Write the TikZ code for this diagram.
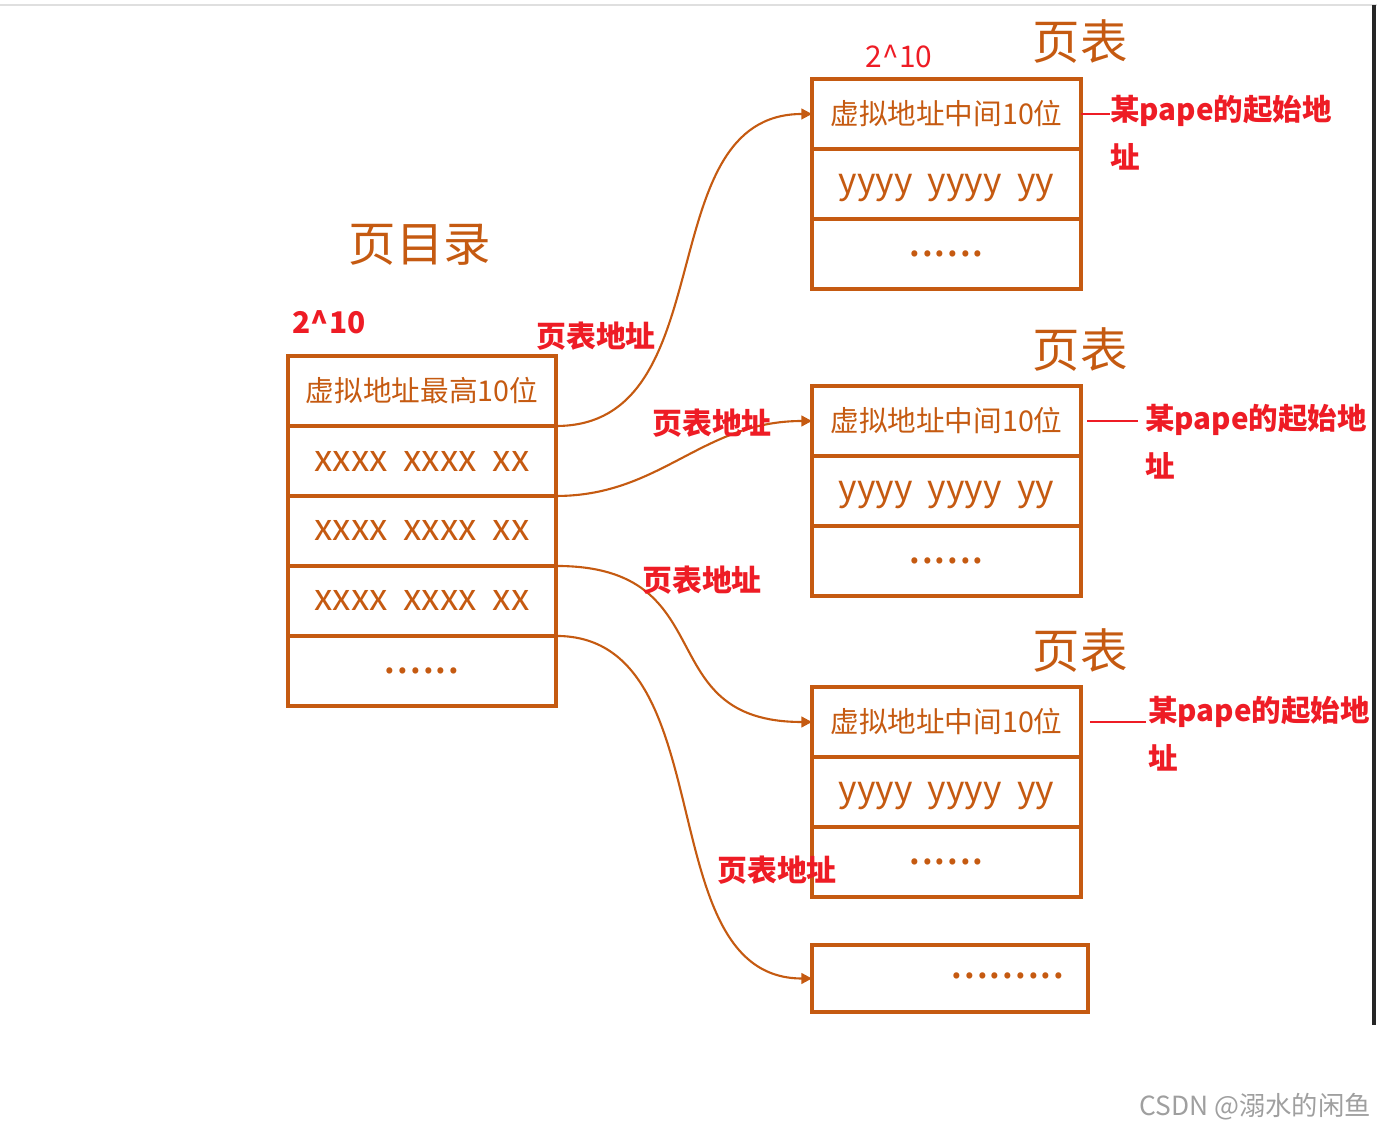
\documentclass[tikz,border=0pt]{standalone}
\usepackage{fontspec}
\setmainfont{Noto Sans CJK SC}
\newfontfamily\widefont[WordSpace=1.9]{Noto Sans CJK SC}
\usetikzlibrary{positioning,arrows.meta}

\definecolor{boxorange}{HTML}{C55A11}
\definecolor{notered}{HTML}{EE1C25}

\tikzset{
    cell/.style={draw=boxorange, line width=2.3pt, minimum width=5.37cm,
        minimum height=1.4cm, inner sep=0pt, outer sep=0pt, text=boxorange},
    pagecell/.style={cell, minimum width=5.38cm},
    smalltext/.style={font=\fontsize{16.3}{20}\selectfont},
    bigtext/.style={font=\widefont\fontsize{21}{24}\selectfont},
    ytext/.style={font=\widefont\fontsize{20.2}{24}\selectfont, text depth=0pt},
    dotstext/.style={font=\fontsize{26}{28}\selectfont},
    link/.style={->, draw=boxorange, line width=1.2pt},
    redlabel/.style={text=notered, font=\fontsize{17}{20}\selectfont\bfseries, inner sep=0pt},
    note/.style={text=notered, font=\fontsize{16.8}{27.5}\selectfont\bfseries,
        align=left, inner sep=0pt, anchor=north west},
    noteline/.style={draw=notered, line width=1.4pt},
    title/.style={text=boxorange, font=\fontsize{27}{30}\selectfont, inner sep=0pt},
}

\begin{document}
\begin{tikzpicture}[x=0.02cm, y=-0.02cm, >={Triangle[length=6pt, width=6pt]}]
    \useasboundingbox (0,0) rectangle (1377,1131);

    % Screen edges
    \draw[gray!25, line width=0.6pt] (0,5) -- (1377,5);
    \draw[black!85, line width=1.8pt] (1374,5) -- (1374,1025);

    % Page directory
    \node[title] (dirtitle) at (420,245) {页目录};
    \node[redlabel] (dirsize) at (329,322) {2\string^10};
    \node[cell, smalltext] (d1) at (422,391) {虚拟地址最高10位};
    \node[cell, bigtext, below=0pt of d1] (d2) {xxxx xxxx xx};
    \node[cell, bigtext, below=0pt of d2] (d3) {xxxx xxxx xx};
    \node[cell, bigtext, below=0pt of d3] (d4) {xxxx xxxx xx};
    \node[cell, dotstext, below=0pt of d4] (d5) {......};

    % Page table # 1
    \node[title] (t1) at (1080,42) {页表};
    \node[text=notered, font=\fontsize{17}{20}\selectfont, inner sep=0pt] (p1size) at (899,57) {2\string^10};
    \node[pagecell, smalltext] (p1a) at (946.5,114) {虚拟地址中间10位};
    \node[pagecell, ytext, below=0pt of p1a] (p1b) {yyyy yyyy yy};
    \node[pagecell, dotstext, below=0pt of p1b] (p1c) {......};

    % Page table # 2
    \node[title] (t2) at (1080,350) {页表};
    \node[pagecell, smalltext] (p2a) at (946.5,421) {虚拟地址中间10位};
    \node[pagecell, ytext, below=0pt of p2a] (p2b) {yyyy yyyy yy};
    \node[pagecell, dotstext, below=0pt of p2b] (p2c) {......};

    % Page table # 3
    \node[title] (t3) at (1080,651) {页表};
    \node[pagecell, smalltext] (p3a) at (946.5,722) {虚拟地址中间10位};
    \node[pagecell, ytext, below=0pt of p3a] (p3b) {yyyy yyyy yy};
    \node[pagecell, dotstext, below=0pt of p3b] (p3c) {......};

    % Remaining page tables
    \node[cell, minimum width=5.52cm, minimum height=1.34cm] (pend) at (950,978.5) {};
    \node[text=boxorange, dotstext, inner sep=0pt] (enddots) at (1008,976) {.........};

    % Directory entries to page tables
    \draw[link] (d1.south east) .. controls +(170,0) and +(-165,0) .. (p1a.west);
    \draw[link] (d2.south east) .. controls +(105,0) and +(-110,0) .. (p2a.west);
    \draw[link] (d3.south east) .. controls +(170,0) and +(-165,0) .. (p3a.west);
    \draw[link] (d4.south east) .. controls +(170,0) and +(-165,0) .. (pend.west);

    % Labels on the links
    \node[redlabel] (addr1) at (596,336) {页表地址};
    \node[redlabel] (addr2) at (712,423) {页表地址};
    \node[redlabel] (addr3) at (702,580) {页表地址};
    \node[redlabel] (addr4) at (777,870) {页表地址};

    % Start of a page
    \node[note] (n1) at (1110,95) {某pape的起始地\\址};
    \node[note] (n2) at (1145,404) {某pape的起始地\\址};
    \node[note] (n3) at (1148,696) {某pape的起始地\\址};
    \draw[noteline] (p1a.east) -- (p1a.east -| n1.west);
    \draw[noteline, shorten <=3.5pt, shorten >=4pt] (p2a.east) -- (p2a.east -| n2.west);
    \draw[noteline, shorten <=5pt, shorten >=1pt] (p3a.east) -- (p3a.east -| n3.west);

    % Watermark
    \node[text=gray!75, font=\fontsize{15}{18}\selectfont, inner sep=0pt] (mark) at (1255,1107) {CSDN @溺水的闲鱼};

\end{tikzpicture}
\end{document}
